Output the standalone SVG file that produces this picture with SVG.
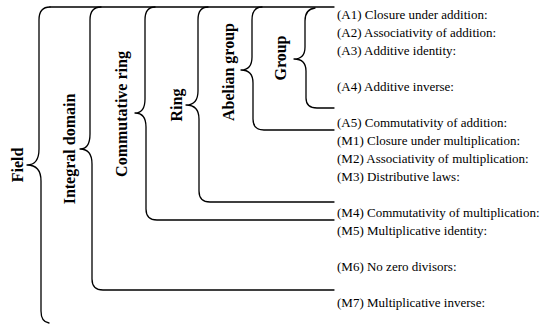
<svg xmlns="http://www.w3.org/2000/svg" width="545" height="325" viewBox="0 0 545 325">
<style>
.br{fill:none;stroke:#000;stroke-width:1.3;stroke-linejoin:round;stroke-linecap:round}
.lab{font-family:"Liberation Serif","Times New Roman",serif;font-weight:bold;font-size:16px;fill:#000;text-anchor:middle}
.ax{font-family:"Liberation Serif","Times New Roman",serif;font-size:13px;fill:#000}
</style>
<rect width="545" height="325" fill="#fff"/>
<g id="connectors">
<path class="br" d="M50,7 L334,7"/>
</g>
<g id="field">
<path class="br" d="M50,7 Q39,7 39,20 L39,149 Q39,165 27,165 Q41,165 41,181 L41,311 Q41,322 49,323"/>
<text class="lab" transform="translate(23,165) rotate(-90)">Field</text>
</g>
<g id="integral-domain">
<path class="br" d="M101,7 Q90,7 90,20 L90,134 Q90,149 80,149 Q92,149 92,164 L92,279 Q92,290 103,290 L334,290"/>
<text class="lab" transform="translate(75,149) rotate(-90)">Integral domain</text>
</g>
<g id="commutative-ring">
<path class="br" d="M155,7 Q145,7 145,20 L145,99 Q145,113 135,113 Q146,113 146,127 L146,209 Q146,220 157,220 L334,220"/>
<text class="lab" transform="translate(127,114) rotate(-90)">Commutative ring</text>
</g>
<g id="ring">
<path class="br" d="M208,7 Q198,7 198,20 L198,91 Q198,105 186,105 Q199,105 199,119 L199,191 Q199,202 210,202 L334,202"/>
<text class="lab" transform="translate(182,105) rotate(-90)">Ring</text>
</g>
<g id="abelian-group">
<path class="br" d="M262,7 Q252,7 252,20 L252,57 Q252,70 241,70 Q253,70 253,83 L253,119 Q253,130 264,130 L334,130"/>
<text class="lab" transform="translate(234,72) rotate(-90)">Abelian group</text>
</g>
<g id="group">
<path class="br" d="M315,8 Q305,9 305,21 L305,47 Q305,59 294,59 Q306,59 306,71 L306,98 Q306,108 317,108 L334,108"/>
<text class="lab" transform="translate(286,58) rotate(-90)">Group</text>
</g>
<g id="axioms">
<text class="ax" x="337" y="18.5">(A1) Closure under addition:</text>
<text class="ax" x="337" y="36.5">(A2) Associativity of addition:</text>
<text class="ax" x="337" y="54.5">(A3) Additive identity:</text>
<text class="ax" x="337" y="90.5">(A4) Additive inverse:</text>
<text class="ax" x="337" y="126.5">(A5) Commutativity of addition:</text>
<text class="ax" x="337" y="144.5">(M1) Closure under multiplication:</text>
<text class="ax" x="337" y="162.5">(M2) Associativity of multiplication:</text>
<text class="ax" x="337" y="180.5">(M3) Distributive laws:</text>
<text class="ax" x="337" y="216.5">(M4) Commutativity of multiplication:</text>
<text class="ax" x="337" y="234.5">(M5) Multiplicative identity:</text>
<text class="ax" x="337" y="270.5">(M6) No zero divisors:</text>
<text class="ax" x="337" y="306.5">(M7) Multiplicative inverse:</text>
</g>
</svg>
